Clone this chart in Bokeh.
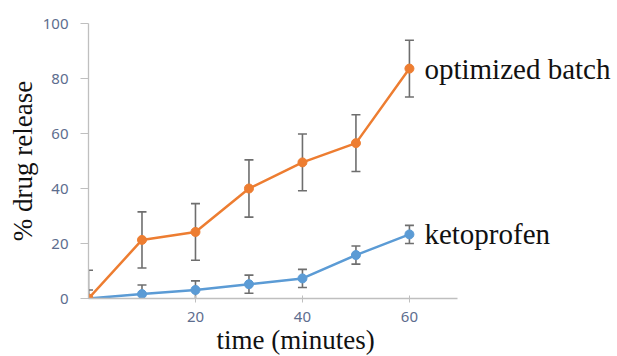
from bokeh.plotting import figure
from bokeh.models import ColumnDataSource, Whisker, Label, Range1d, FixedTicker, Title
from bokeh.embed import file_html
from bokeh.resources import INLINE

time_min = [0, 10, 20, 30, 40, 50, 60]
optimized = [0, 21.3, 24.2, 40.0, 49.5, 56.5, 83.6]
optimized_err = [10.3, 10.2, 10.3, 10.4, 10.3, 10.3, 10.3]
ketoprofen = [0, 1.6, 3.1, 5.2, 7.3, 15.8, 23.3]
ketoprofen_err = [3.1, 3.3, 3.3, 3.3, 3.3, 3.3, 3.3]
x_ticks = [20, 40, 60]
y_ticks = [0, 20, 40, 60, 80, 100]
x_title = "time (minutes)"
y_title = "% drug release"

ORANGE = "#ED7D31"
BLUE = "#5B9BD5"
ERR = "#6e6e6e"
AXIS = "#bfbfbf"
TICKLBL = "#5d6d8e"

p = figure(width=617, height=356, output_backend="svg", toolbar_location=None,
           x_range=Range1d(0, 98.9), y_range=Range1d(0, 100),
           min_border_left=88, min_border_right=0, min_border_top=23, min_border_bottom=0)
p.outline_line_color = None
p.xgrid.visible = False
p.ygrid.visible = False
p.background_fill_color = "white"
p.border_fill_color = "white"

def series(ys, errs, color):
    src = ColumnDataSource(dict(x=time_min, y=ys,
                                lo=[a - e for a, e in zip(ys, errs)],
                                hi=[a + e for a, e in zip(ys, errs)]))
    w = Whisker(source=src, base="x", lower="lo", upper="hi",
                line_color=ERR, line_width=1.6)
    w.upper_head.size = 9
    w.lower_head.size = 9
    w.upper_head.line_color = ERR
    w.lower_head.line_color = ERR
    w.upper_head.line_width = 1.6
    w.lower_head.line_width = 1.6
    p.add_layout(w)
    p.line("x", "y", source=src, line_color=color, line_width=2.5)
    p.scatter("x", "y", source=src, size=9, fill_color=color, line_color=color)

series(ketoprofen, ketoprofen_err, BLUE)
series(optimized, optimized_err, ORANGE)

for name, ys in (("optimized batch", optimized), ("ketoprofen", ketoprofen)):
    p.add_layout(Label(x=time_min[-1], y=ys[-1], text=name, x_offset=15,
                       text_baseline="middle", text_align="left",
                       text_font="Liberation Serif", text_font_size="29px",
                       text_color="#111111"))

# x-axis title, placed under the drawn part of the axis
xt = Title(text=x_title, align="left", offset=128, standoff=0,
           vertical_align="top",
           text_font="Liberation Serif", text_font_size="27px",
           text_font_style="normal", text_color="#111111")
p.add_layout(xt, "below")

p.xaxis.ticker = FixedTicker(ticks=x_ticks)
p.yaxis.ticker = FixedTicker(ticks=y_ticks)
p.xaxis.bounds = (0, 69)
for ax in (p.xaxis, p.yaxis):
    ax.axis_line_color = AXIS
    ax.axis_line_width = 1.3
    ax.major_tick_line_color = AXIS
    ax.minor_tick_line_color = None
    ax.major_label_text_color = TICKLBL
    ax.major_label_text_font = "Noto Sans"
    ax.major_label_text_font_size = "15px"
    ax.axis_label_text_font = "Liberation Serif"
    ax.axis_label_text_font_style = "normal"
    ax.axis_label_text_color = "#111111"

p.xaxis.major_tick_in = 3
p.xaxis.major_tick_out = 4
p.xaxis.major_label_standoff = 9

p.yaxis.major_tick_in = 0
p.yaxis.major_tick_out = 8
p.yaxis.major_label_standoff = 12
p.yaxis.axis_label = y_title
p.yaxis.axis_label_text_font_size = "27px"
p.yaxis.axis_label_standoff = 2

open("out.html", "w").write(file_html(p, INLINE))
